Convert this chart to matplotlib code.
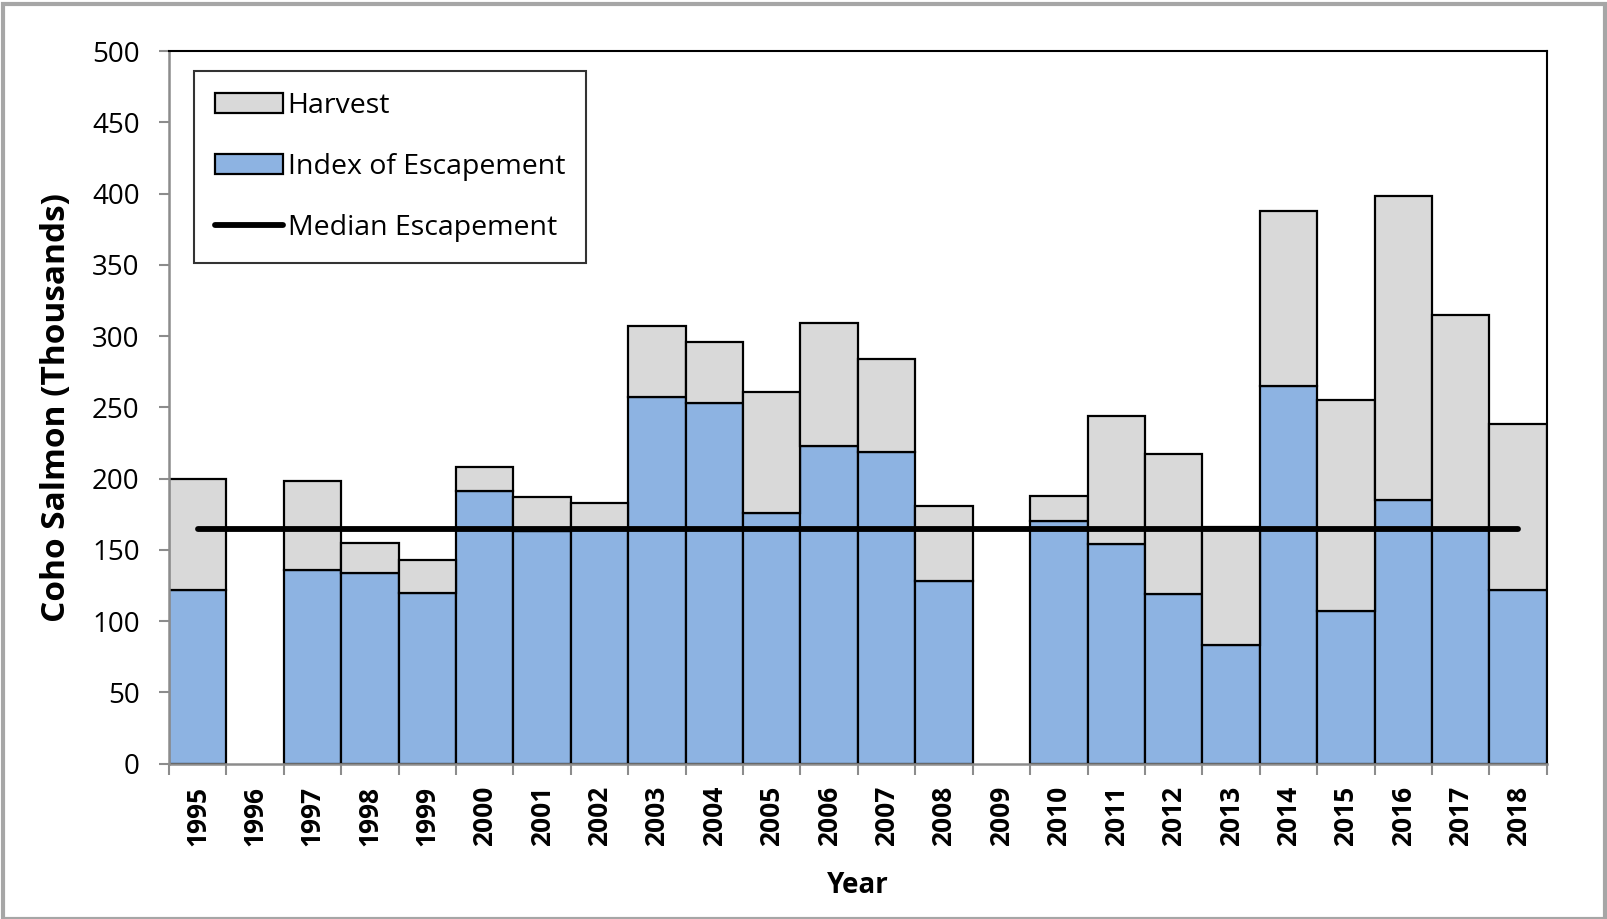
import numpy as np
import matplotlib.pyplot as plt
from matplotlib.patches import Patch, Rectangle
from matplotlib.lines import Line2D

plt.rcParams['font.family'] = ['Open Sans', 'DejaVu Sans']

# data (thousands of fish)
years = ['1995', '1996', '1997', '1998', '1999', '2000', '2001', '2002', '2003', '2004',
         '2005', '2006', '2007', '2008', '2009', '2010', '2011', '2012', '2013', '2014',
         '2015', '2016', '2017', '2018']
escapement = [122, 0, 136, 134, 120, 191, 163, 165, 257, 253,
              176, 223, 219, 128, 0, 170, 154, 119, 83, 265,
              107, 185, 165, 122]
harvest = [78, 0, 62, 21, 23, 17, 24, 18, 50, 43,
           85, 86, 65, 53, 0, 18, 90, 98, 83, 123,
           148, 213, 150, 116]
median_esc = 165

blue = '#8DB3E2'
grey = '#D9D9D9'
axis_grey = '#8C8C8C'

fig = plt.figure(figsize=(16.08, 9.19), dpi=100)
ax = fig.add_axes([0.105, 0.169, 0.857, 0.7755])

x = np.arange(len(years))
esc = np.array(escapement)
har = np.array(harvest)
has = (esc + har) > 0  # years without data get no bar
ax.bar(x[has], esc[has], width=1.0, color=blue, edgecolor='black', linewidth=1.6, zorder=2)
ax.bar(x[has], har[has], width=1.0, bottom=esc[has], color=grey, edgecolor='black',
       linewidth=1.6, zorder=2)
ax.plot([x[0], x[-1]], [median_esc, median_esc], color='black', lw=4.2,
        solid_capstyle='round', zorder=3)

ax.set_xlim(-0.5, len(years) - 0.5)
ax.set_ylim(0, 500)
ax.set_yticks(range(0, 501, 50))
ax.tick_params(axis='y', labelsize=20, length=7, width=1.5, color=axis_grey, pad=14)

ax.set_xticks(x)
ax.set_xticklabels(years, rotation=90, fontsize=19, fontweight='bold')
ax.set_xticks(np.arange(-0.5, len(years), 1.0), minor=True)
ax.tick_params(axis='x', which='major', length=0, pad=16)
ax.tick_params(axis='x', which='minor', length=8, width=1.5, color=axis_grey)

for s in ['top', 'right']:
    ax.spines[s].set_color('black')
    ax.spines[s].set_linewidth(1.5)
for s in ['left', 'bottom']:
    ax.spines[s].set_color(axis_grey)
    ax.spines[s].set_linewidth(1.8)

ax.set_ylabel('Coho Salmon (Thousands)', fontsize=24, fontweight='bold', labelpad=14)
ax.set_xlabel('Year', fontsize=20, fontweight='bold', labelpad=18)

handles = [Patch(facecolor=grey, edgecolor='black', linewidth=1.6),
           Patch(facecolor=blue, edgecolor='black', linewidth=1.6),
           Line2D([0], [0], color='black', lw=4.2, solid_capstyle='round')]
labels = ['Harvest', 'Index of Escapement', 'Median Escapement']
leg = ax.legend(handles, labels, loc='upper left', bbox_to_anchor=(0.018, 0.972),
                fontsize=20.5, frameon=True, fancybox=False, edgecolor='black',
                handlelength=2.4, handleheight=0.7, handletextpad=0.15,
                labelspacing=1.15, borderpad=0.75, borderaxespad=0)
leg.get_frame().set_linewidth(1.5)

# outer chart border
fig.patches.append(Rectangle((0.002, 0.0), 0.996, 0.996, transform=fig.transFigure,
                             fill=False, edgecolor='#A6A6A6', linewidth=3))

fig.savefig('out.png', dpi=100)
